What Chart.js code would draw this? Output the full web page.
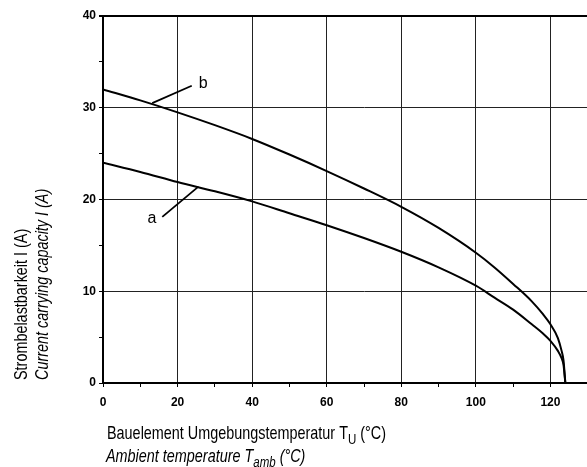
<!DOCTYPE html>
<html>
<head>
<meta charset="utf-8">
<script src="https://cdn.jsdelivr.net/npm/chart.js@4.4.1/dist/chart.umd.min.js"></script>
<style>
  html, body { margin: 0; padding: 0; background: #fff; overflow: hidden; }
  #wrap { position: relative; width: 633px; height: 467px; }
</style>
</head>
<body>
<div id="wrap"><canvas id="chart" width="633" height="467"></canvas></div>
<script>
// curve b (upper) and curve a (lower)
let tempB = [0, 10, 20, 30, 40, 50, 60, 70, 80, 90, 100, 105, 110, 115, 118, 120, 122, 123, 123.5, 124];
let currB = [32, 30.8, 29.5, 28.1, 26.6, 24.9, 23.1, 21.2, 19.2, 16.9, 14.2, 12.6, 10.8, 8.9, 7.5, 6.4, 4.9, 3.5, 2.5, 0];
let tempA = [0, 10, 20, 30, 40, 50, 60, 70, 80, 90, 100, 105, 110, 115, 118, 120, 122, 123, 123.5, 124];
let currA = [24, 23, 21.9, 20.9, 19.8, 18.5, 17.2, 15.8, 14.3, 12.6, 10.6, 9.3, 8.0, 6.4, 5.4, 4.6, 3.5, 2.7, 2.0, 0];

let xTicks = [0, 20, 40, 60, 80, 100, 120];
let yTicks = [0, 10, 20, 30, 40];

// curve labels with leader lines (data coords)
let labelB = { text: "b", x: 26.9, y: 32.6, from: [13.2, 30.5], to: [23.8, 32.4] };
let labelA = { text: "a", x: 13.1, y: 17.9, from: [15.9, 18.1], to: [25.6, 21.4] };

const sans = "'Liberation Sans', Arial, sans-serif";

function toPts(xs, ys) {
  return xs.map((x, i) => ({ x: x, y: ys[i] }));
}

// draws text made of parts (some subscript), condensed horizontally by sx
function drawRich(ctx, parts, x, y, size, italic, sx) {
  ctx.save();
  ctx.translate(x, y);
  ctx.scale(sx, 1);
  let cx = 0;
  parts.forEach(p => {
    let fs = p.sub ? size * 0.8 : size;
    ctx.font = (italic ? "italic " : "") + fs + "px " + sans;
    ctx.fillText(p.t, cx, p.sub ? size * 0.28 : 0);
    cx += ctx.measureText(p.t).width;
  });
  ctx.restore();
}

function richWidth(ctx, parts, size, italic) {
  let w = 0;
  parts.forEach(p => {
    ctx.font = (italic ? "italic " : "") + (p.sub ? size * 0.8 : size) + "px " + sans;
    w += ctx.measureText(p.t).width;
  });
  return w;
}

const extras = {
  id: "extras",
  afterDatasetsDraw(chart) {
    let ctx = chart.ctx;
    let xs = chart.scales.x, ys = chart.scales.y;
    ctx.save();
    ctx.strokeStyle = "#000";
    ctx.fillStyle = "#000";
    ctx.lineWidth = 1.8;
    [labelB, labelA].forEach(l => {
      ctx.beginPath();
      ctx.moveTo(xs.getPixelForValue(l.from[0]), ys.getPixelForValue(l.from[1]));
      ctx.lineTo(xs.getPixelForValue(l.to[0]), ys.getPixelForValue(l.to[1]));
      ctx.stroke();
      ctx.font = "16px " + sans;
      ctx.textAlign = "center";
      ctx.textBaseline = "middle";
      ctx.fillText(l.text, xs.getPixelForValue(l.x), ys.getPixelForValue(l.y));
    });

    // axis titles (narrow face imitated by horizontal condensing)
    ctx.textAlign = "left";
    ctx.textBaseline = "alphabetic";
    let t1 = [{ t: "Bauelement Umgebungstemperatur T" }, { t: "U", sub: true }, { t: " (°C)" }];
    let t2 = [{ t: "Ambient temperature T" }, { t: "amb", sub: true }, { t: " (°C)" }];
    let size = 19;
    let sx = 279 / richWidth(ctx, t1, size, false);
    drawRich(ctx, t1, 107, 439, size, false, sx);
    drawRich(ctx, t2, 106, 462, size, true, sx);

    ctx.translate(27, 380);
    ctx.rotate(-Math.PI / 2);
    drawRich(ctx, [{ t: "Strombelastbarkeit I (A)" }], 0, 0, size, false, sx);
    drawRich(ctx, [{ t: "Current carrying capacity I (A)" }], 0, 21, size, true, sx);
    ctx.restore();
  }
};

new Chart(document.getElementById("chart"), {
  type: "line",
  data: {
    datasets: [
      { label: "b", data: toPts(tempB, currB), borderColor: "#000", borderWidth: 2, pointRadius: 0, cubicInterpolationMode: "monotone", fill: false },
      { label: "a", data: toPts(tempA, currA), borderColor: "#000", borderWidth: 2, pointRadius: 0, cubicInterpolationMode: "monotone", fill: false }
    ]
  },
  options: {
    responsive: false,
    animation: false,
    layout: { padding: { top: 16, left: 0, right: 0, bottom: 0 } },
    plugins: { legend: { display: false }, tooltip: { enabled: false } },
    scales: {
      x: {
        type: "linear",
        min: 0, max: 140,
        afterFit: s => { s.height = 84; },
        border: { display: true, color: "#000", width: 2 },
        grid: {
          color: c => (xTicks.includes(c.tick.value) && c.tick.value > 0) ? "#222" : "rgba(0,0,0,0)",
          lineWidth: 1,
          tickColor: "#000",
          tickLength: 4,
          drawTicks: true
        },
        ticks: {
          stepSize: 10,
          autoSkip: false,
          maxRotation: 0,
          padding: 8,
          color: "#000",
          font: { family: sans, size: 12, weight: "bold" },
          callback: v => xTicks.includes(v) ? String(v) : ""
        }
      },
      y: {
        min: 0, max: 40,
        afterFit: s => { s.width = 103; },
        border: { display: true, color: "#000", width: 2 },
        grid: {
          color: c => c.tick.value === 40 ? "#000" : (yTicks.includes(c.tick.value) && c.tick.value > 0 ? "#222" : "rgba(0,0,0,0)"),
          lineWidth: c => c.tick.value === 40 ? 2 : 1,
          tickColor: "#000",
          tickLength: 4,
          drawTicks: true
        },
        ticks: {
          stepSize: 5,
          autoSkip: false,
          padding: 3,
          color: "#000",
          font: { family: sans, size: 12, weight: "bold" },
          callback: v => yTicks.includes(v) ? String(v) : ""
        }
      }
    }
  },
  plugins: [extras]
});
</script>
</body>
</html>
